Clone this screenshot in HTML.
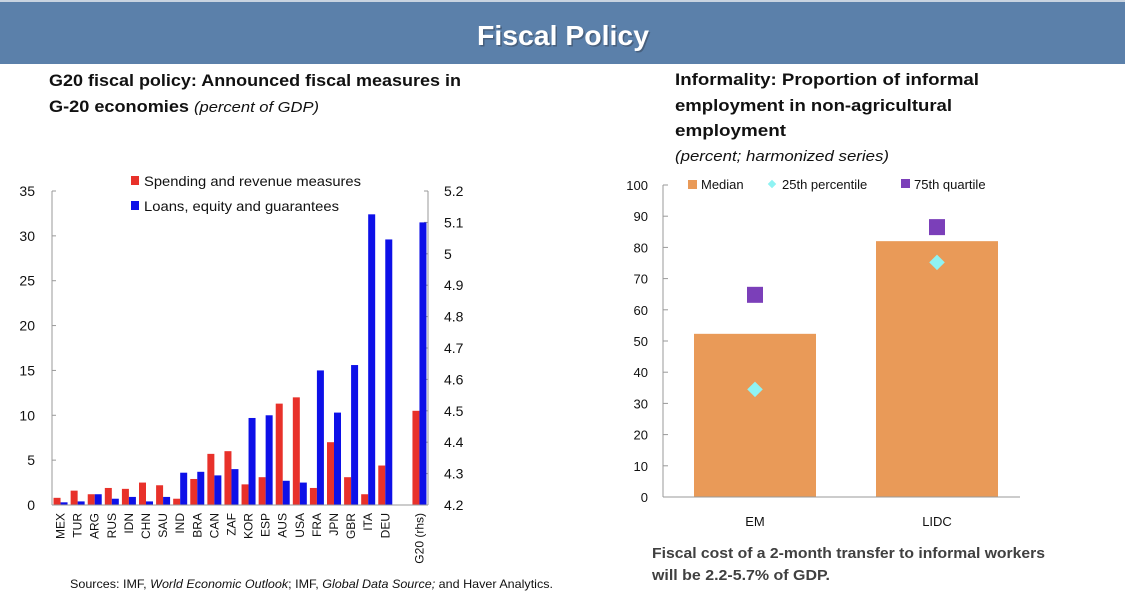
<!DOCTYPE html>
<html><head><meta charset="utf-8"><style>
html,body{margin:0;padding:0;background:#fff;width:1125px;height:614px;overflow:hidden}
svg{display:block;font-family:"Liberation Sans",sans-serif}
</style></head><body>
<svg id="s" width="1125" height="614" viewBox="0 0 1125 614" xmlns="http://www.w3.org/2000/svg">
<rect x="0" y="0" width="1125" height="2" fill="#c8d3e0"/>
<rect x="0" y="2" width="1125" height="62" fill="#5b80aa"/>
<text x="563" y="45" text-anchor="middle" font-size="28" font-weight="bold" fill="#3a4a60" opacity="0.6" textLength="172" lengthAdjust="spacingAndGlyphs" transform="translate(1.5,1.5)">Fiscal Policy</text>
<text x="563" y="45" text-anchor="middle" font-size="28" font-weight="bold" fill="#fff" textLength="172" lengthAdjust="spacingAndGlyphs">Fiscal Policy</text>

<g fill="#111" font-weight="bold" font-size="17">
<text x="49" y="86" textLength="412" lengthAdjust="spacingAndGlyphs">G20 fiscal policy: Announced fiscal measures in</text>
<text x="49" y="112" textLength="140" lengthAdjust="spacingAndGlyphs">G-20 economies</text>
<text x="194" y="112" font-weight="normal" font-style="italic" font-size="15" textLength="125" lengthAdjust="spacingAndGlyphs">(percent of GDP)</text>
</g>
<g fill="#111" font-weight="bold" font-size="17">
<text x="675" y="85" textLength="304" lengthAdjust="spacingAndGlyphs">Informality: Proportion of informal</text>
<text x="675" y="111" textLength="277" lengthAdjust="spacingAndGlyphs">employment in non-agricultural</text>
<text x="675" y="136" textLength="111" lengthAdjust="spacingAndGlyphs">employment</text>
<text x="675" y="161" font-weight="normal" font-style="italic" font-size="15" textLength="214" lengthAdjust="spacingAndGlyphs">(percent; harmonized series)</text>
</g>

<g id="left"></g>
<g id="right"></g>

<text x="70" y="588" font-size="12" fill="#111" textLength="483" lengthAdjust="spacingAndGlyphs">Sources: IMF, <tspan font-style="italic">World Economic Outlook</tspan>; IMF, <tspan font-style="italic">Global Data Source;</tspan> and Haver Analytics.</text>
<g fill="#404040" font-weight="bold" font-size="15">
<text x="652" y="558" textLength="393" lengthAdjust="spacingAndGlyphs">Fiscal cost of a 2-month transfer to informal workers</text>
<text x="652" y="580" textLength="178" lengthAdjust="spacingAndGlyphs">will be 2.2-5.7% of GDP.</text>
</g>
</svg>
<script>
const categories=["MEX","TUR","ARG","RUS","IDN","CHN","SAU","IND","BRA","CAN","ZAF","KOR","ESP","AUS","USA","FRA","JPN","GBR","ITA","DEU","","G20 (rhs)"];
const spending=[0.8,1.6,1.2,1.9,1.8,2.5,2.2,0.7,2.9,5.7,6.0,2.3,3.1,11.3,12.0,1.9,7.0,3.1,1.2,4.4,null,10.5];
const loans=[0.3,0.4,1.2,0.7,0.9,0.4,0.9,3.6,3.7,3.3,4.0,9.7,10.0,2.7,2.5,15.0,10.3,15.6,32.4,29.6,null,31.5];
const leftTicks=[0,5,10,15,20,25,30,35];
const rightTicks=["4.2","4.3","4.4","4.5","4.6","4.7","4.8","4.9","5","5.1","5.2"];
const groups=["EM","LIDC"];
const median=[52.3,82.0];
const p25=[34.5,75.2];
const p75=[64.8,86.5];
const rTicks=[0,10,20,30,40,50,60,70,80,90,100];

const NS="http://www.w3.org/2000/svg";
function mk(tag,attrs,parent,txt){const e=document.createElementNS(NS,tag);for(const k in attrs)e.setAttribute(k,attrs[k]);if(txt!==undefined)e.textContent=txt;parent.appendChild(e);return e;}

// Left chart
const L=document.getElementById('left');
const x0=52,x1=428,yTop=191,yBot=505,maxL=35;
const slot=(x1-x0)/categories.length;
const yL=v=>yBot-(v/maxL)*(yBot-yTop);
const xC=i=>x0+slot*(i+0.5);
const bw=7;
leftTicks.forEach(t=>{
 const lab=mk('text',{x:x0-17,y:yL(t)+5,'text-anchor':'end','font-size':14,fill:'#111'},L,t);
 
 
 const tk=mk('line',{x1:x0,x2:x0+4,y1:yL(t),y2:yL(t),stroke:'#999'},L);
 
 
});
rightTicks.forEach((t,i)=>{
 const y=yBot-i*(yBot-yTop)/(rightTicks.length-1);
 const lab=mk('text',{x:x1+16,y:y+5,'font-size':14,fill:'#111'},L,t);
 
 
 const tk=mk('line',{x1:x1-4,x2:x1,y1:y,y2:y,stroke:'#999'},L);
 
 
});
categories.forEach((c,i)=>{
 const cx=xC(i);
 if(spending[i]!=null){
  const r=mk('rect',{x:cx-bw,y:yL(spending[i]),width:bw,height:yBot-yL(spending[i]),fill:'#e8312a'},L);
  
  
 }
 if(loans[i]!=null){
  const r=mk('rect',{x:cx,y:yL(loans[i]),width:bw,height:yBot-yL(loans[i]),fill:'#0d10e8'},L);
  
  
 }
 if(c){
  const t=mk('text',{x:cx+4,y:yBot+8,'text-anchor':'end','font-size':12,fill:'#111',transform:`rotate(-90 ${cx+4} ${yBot+8})`},L,c);
  
  
 }
});
let ax=mk('line',{x1:x0,x2:x0,y1:yTop,y2:yBot,stroke:'#999'},L);


ax=mk('line',{x1:x1,x2:x1,y1:yTop,y2:yBot,stroke:'#999'},L);


ax=mk('line',{x1:x0,x2:x1,y1:yBot,y2:yBot,stroke:'#999'},L);


let lg=mk('g',{},L);


mk('rect',{x:131,y:176,width:8,height:9,fill:'#e8312a'},lg);
mk('text',{x:144,y:186,'font-size':14,fill:'#111',textLength:217,lengthAdjust:'spacingAndGlyphs'},lg,'Spending and revenue measures');
lg=mk('g',{},L);


mk('rect',{x:131,y:201,width:8,height:9,fill:'#0d10e8'},lg);
mk('text',{x:144,y:211,'font-size':14,fill:'#111',textLength:195,lengthAdjust:'spacingAndGlyphs'},lg,'Loans, equity and guarantees');

// Right chart
const R=document.getElementById('right');
const rx0=663,rx1=1020,ryTop=185,ryBot=497;
const yR=v=>ryBot-(v/100)*(ryBot-ryTop);
const gFirst=755,gStep=182;
const gx=i=>gFirst+gStep*i;
const gbw=122;
rTicks.forEach(t=>{
 const lab=mk('text',{x:rx0-15,y:yR(t)+5,'text-anchor':'end','font-size':13,fill:'#111'},R,t);
 
 
 const tk=mk('line',{x1:rx0,x2:rx0+5,y1:yR(t),y2:yR(t),stroke:'#999'},R);
 
 
});
groups.forEach((g,i)=>{
 const cx=gx(i);
 const b=mk('rect',{x:cx-gbw/2,y:yR(median[i]),width:gbw,height:ryBot-yR(median[i]),fill:'#e99a58'},R);
 
 
 const d=mk('rect',{x:cx-5.5,y:yR(p25[i])-5.5,width:11,height:11,fill:'#8ff3f3',transform:`rotate(45 ${cx} ${yR(p25[i])})`},R);
 
 
 const q=mk('rect',{x:cx-8,y:yR(p75[i])-8,width:16,height:16,fill:'#7b3fb9'},R);
 
 
 const t=mk('text',{x:cx,y:ryBot+29,'text-anchor':'middle','font-size':13,fill:'#111'},R,g);
 
 
});
ax=mk('line',{x1:rx0,x2:rx0,y1:ryTop,y2:ryBot,stroke:'#999'},R);


ax=mk('line',{x1:rx0,x2:rx1,y1:ryBot,y2:ryBot,stroke:'#999'},R);


lg=mk('g',{},R);


mk('rect',{x:688,y:180,width:9,height:9,fill:'#e99a58'},lg);
mk('text',{x:701,y:189,'font-size':13,fill:'#111'},lg,'Median');
lg=mk('g',{},R);


mk('rect',{x:769,y:181,width:6,height:6,fill:'#8ff3f3',transform:'rotate(45 772 184)'},lg);
mk('text',{x:782,y:189,'font-size':13,fill:'#111'},lg,'25th percentile');
lg=mk('g',{},R);


mk('rect',{x:901,y:179,width:9,height:9,fill:'#7b3fb9'},lg);
mk('text',{x:914,y:189,'font-size':13,fill:'#111'},lg,'75th quartile');
</script>
</body></html>
